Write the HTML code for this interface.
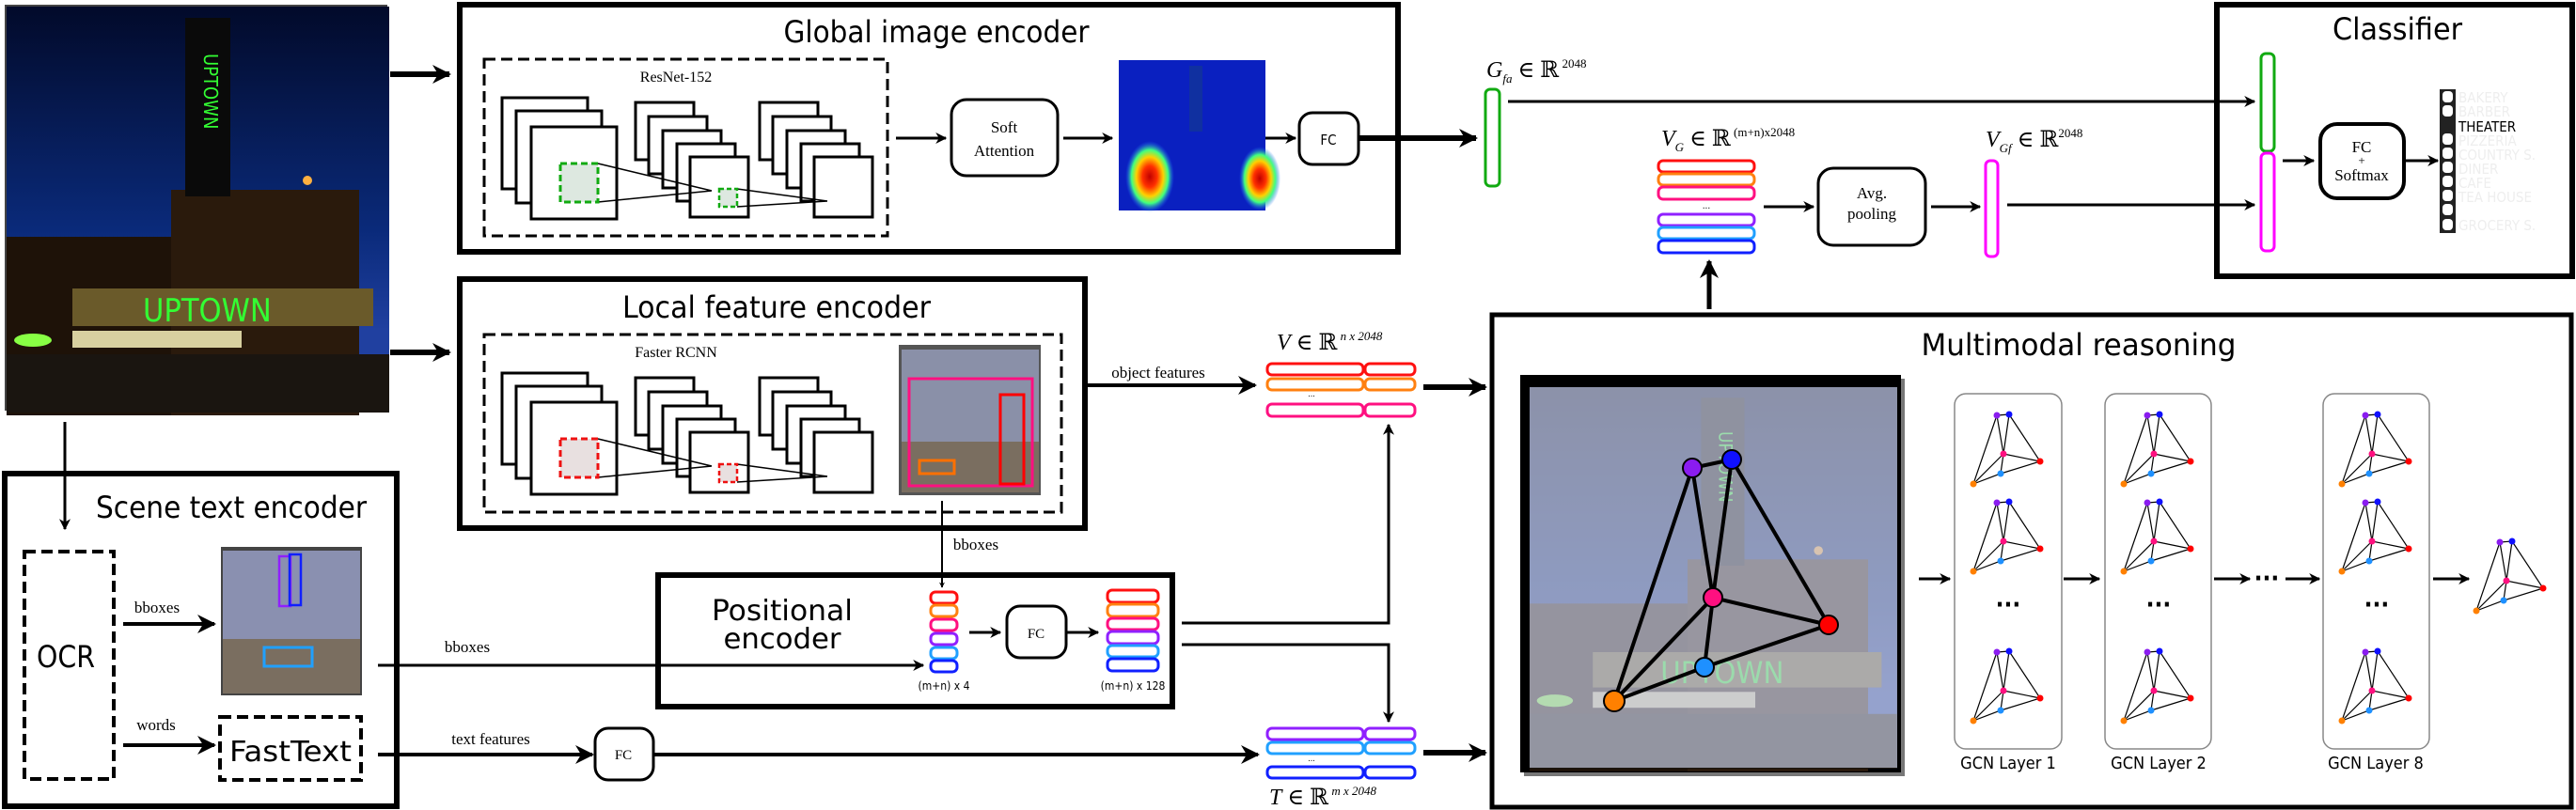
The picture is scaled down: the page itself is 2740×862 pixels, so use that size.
<!DOCTYPE html>
<html><head><meta charset="utf-8"><style>
html,body{margin:0;padding:0;background:#fff;}
svg{display:block;}
text{font-family:"DejaVu Sans Condensed","Liberation Sans Narrow","Liberation Sans",sans-serif;fill:#000;}
.serif{font-family:"Liberation Serif","DejaVu Serif",serif;}
</style></head><body>
<svg width="2740" height="862" viewBox="0 0 2740 862" xmlns="http://www.w3.org/2000/svg">
<defs>
<marker id="ah" viewBox="0 0 10 10" refX="9" refY="5" markerWidth="6" markerHeight="6" markerUnits="userSpaceOnUse" orient="auto"><path d="M0,0 L10,5 L0,10 L3,5 z" fill="#000"/></marker>
<marker id="ahs" viewBox="0 0 10 10" refX="9" refY="5" markerWidth="12" markerHeight="12" markerUnits="userSpaceOnUse" orient="auto"><path d="M0,0 L10,5 L0,10 L3,5 z" fill="#000"/></marker>
<marker id="ahb" viewBox="0 0 10 10" refX="9" refY="5" markerWidth="20" markerHeight="20" markerUnits="userSpaceOnUse" orient="auto"><path d="M0,0 L10,5 L0,10 L3,5 z" fill="#000"/></marker>
<linearGradient id="sky" x1="0" y1="0" x2="0" y2="1"><stop offset="0" stop-color="#020a2a"/><stop offset="0.55" stop-color="#0a2a7a"/><stop offset="0.8" stop-color="#2040a0"/></linearGradient>
<radialGradient id="hot" cx="0.5" cy="0.5" r="0.5"><stop offset="0" stop-color="#c00000"/><stop offset="0.3" stop-color="#ff3000"/><stop offset="0.55" stop-color="#ffd000"/><stop offset="0.75" stop-color="#40ff80"/><stop offset="1" stop-color="#2060ff" stop-opacity="0"/></radialGradient>
<g id="photo">
<rect x="0" y="0" width="407" height="432" fill="url(#sky)"/>
<rect x="0" y="245" width="190" height="190" fill="#1e1208"/>
<rect x="175" y="195" width="200" height="240" fill="#2a1a0c"/>
<rect x="190" y="12" width="48" height="190" fill="#0a0a0a"/>
<text x="210" y="50" font-size="20" fill="#3f3" style="fill:#3f3" transform="rotate(90 210 50)">UPTOWN</text>
<rect x="70" y="300" width="320" height="40" fill="#6a5a2a"/>
<text x="145" y="335" font-size="34" style="fill:#3f3">UPTOWN</text>
<rect x="70" y="345" width="180" height="18" fill="#d8d0a0"/>
<rect x="0" y="370" width="407" height="62" fill="#1a1510"/>
<ellipse cx="28" cy="355" rx="20" ry="7" fill="#8f4"/>
<circle cx="320" cy="185" r="5" fill="#ffb040"/>
</g>
<g id="conv">
<rect x="47" y="0" width="91" height="97" fill="#fff" stroke="#000" stroke-width="3"/>
<rect x="62" y="14" width="91" height="98" fill="#fff" stroke="#000" stroke-width="3"/>
<rect x="78" y="31" width="91" height="98" fill="#fff" stroke="#000" stroke-width="3"/>
<rect x="189" y="5" width="62" height="61" fill="#fff" stroke="#000" stroke-width="3"/>
<rect x="203" y="20" width="62" height="61" fill="#fff" stroke="#000" stroke-width="3"/>
<rect x="218" y="35" width="62" height="61" fill="#fff" stroke="#000" stroke-width="3"/>
<rect x="233" y="49" width="62" height="61" fill="#fff" stroke="#000" stroke-width="3"/>
<rect x="247" y="63" width="62" height="64" fill="#fff" stroke="#000" stroke-width="3"/>
<rect x="321" y="5" width="62" height="61" fill="#fff" stroke="#000" stroke-width="3"/>
<rect x="335" y="20" width="62" height="61" fill="#fff" stroke="#000" stroke-width="3"/>
<rect x="350" y="35" width="62" height="61" fill="#fff" stroke="#000" stroke-width="3"/>
<rect x="365" y="49" width="62" height="61" fill="#fff" stroke="#000" stroke-width="3"/>
<rect x="379" y="63" width="62" height="64" fill="#fff" stroke="#000" stroke-width="3"/>
<path d="M149,70 L270,99 M149,111 L270,99 M297,97 L393,110 M297,116 L393,110" stroke="#000" stroke-width="1.5" fill="none"/>
</g>
<g id="mini" stroke="#000" stroke-width="1.2">
<path d="M20,74 L45,1 L58,0 L91,50 L49,63 L20,74 M45,1 L52,42 L58,0 M52,42 L91,50 M52,42 L49,63 M52,42 L20,74" fill="none"/>
<circle cx="45" cy="1" r="3.5" fill="#8a1cf0" stroke="none"/><circle cx="58" cy="0" r="3.5" fill="#1010ff" stroke="none"/>
<circle cx="52" cy="42" r="3.5" fill="#ff1080" stroke="none"/><circle cx="91" cy="50" r="3.5" fill="#f00" stroke="none"/>
<circle cx="49" cy="63" r="3.5" fill="#1e90ff" stroke="none"/><circle cx="20" cy="74" r="3.5" fill="#ff8000" stroke="none"/>
</g>
</defs>

<!-- Photo -->
<rect x="5" y="5" width="407" height="432" fill="#444"/>
<use href="#photo" x="7" y="7" transform="translate(0,0)"/>
<line x1="415" y1="79" x2="478" y2="79" stroke="#000" stroke-width="6" marker-end="url(#ahb)"/>
<line x1="415" y1="375" x2="478" y2="375" stroke="#000" stroke-width="6" marker-end="url(#ahb)"/>
<line x1="69" y1="449" x2="69" y2="563" stroke="#000" stroke-width="3" marker-end="url(#ahs)"/>

<!-- Global image encoder -->
<rect x="489" y="5" width="998" height="263" fill="none" stroke="#000" stroke-width="6"/>
<text x="996" y="45" font-size="32" text-anchor="middle" textLength="325" lengthAdjust="spacingAndGlyphs">Global image encoder</text>
<rect x="515" y="63" width="429" height="188" fill="none" stroke="#000" stroke-width="3" stroke-dasharray="12,6"/>
<text x="719" y="87" font-size="16" text-anchor="middle" class="serif">ResNet-152</text>
<g transform="translate(487,104)"><use href="#conv"/>
<rect x="109" y="70" width="40" height="41" fill="#dde8e0" stroke="#1a1" stroke-width="3" stroke-dasharray="7,4"/>
<rect x="278" y="97" width="19" height="19" fill="#dde8e0" stroke="#1a1" stroke-width="2.5" stroke-dasharray="5,3"/></g>
<line x1="953" y1="147" x2="1006" y2="147" stroke="#000" stroke-width="3" marker-end="url(#ahs)"/>
<rect x="1012" y="106" width="113" height="81" rx="16" fill="#fff" stroke="#000" stroke-width="3"/>
<text x="1068" y="141" font-size="17" text-anchor="middle" class="serif">Soft</text>
<text x="1068" y="166" font-size="17" text-anchor="middle" class="serif">Attention</text>
<line x1="1131" y1="147" x2="1183" y2="147" stroke="#000" stroke-width="3" marker-end="url(#ahs)"/>
<rect x="1190" y="64" width="156" height="160" fill="#0a20c0"/>
<rect x="1265" y="70" width="14" height="70" fill="#1030a0"/>
<ellipse cx="1223" cy="188" rx="26" ry="38" fill="url(#hot)"/>
<ellipse cx="1340" cy="190" rx="22" ry="34" fill="url(#hot)"/>
<line x1="1346" y1="147" x2="1378" y2="147" stroke="#000" stroke-width="3" marker-end="url(#ahs)"/>
<rect x="1382" y="120" width="63" height="55" rx="14" fill="#fff" stroke="#000" stroke-width="3"/>
<text x="1413" y="154" font-size="15" text-anchor="middle">FC</text>
<line x1="1445" y1="147" x2="1570" y2="147" stroke="#000" stroke-width="6" marker-end="url(#ahb)"/>

<!-- G_fa -->
<rect x="1580" y="95" width="15" height="103" rx="5" fill="#fff" stroke="#1a1" stroke-width="3"/>
<text x="1581" y="82" font-size="24" class="serif" font-style="italic">G<tspan font-size="13" dy="6">fa</tspan><tspan dy="-6" font-style="normal" font-size="24"> ∈ ℝ</tspan><tspan font-size="13" dy="-10" font-style="normal"> 2048</tspan></text>
<line x1="1604" y1="108" x2="2398" y2="108" stroke="#000" stroke-width="3" marker-end="url(#ahs)"/>

<!-- V_G -->
<text x="1767" y="155" font-size="24" class="serif" font-style="italic">V<tspan font-size="13" dy="6">G</tspan><tspan dy="-6" font-style="normal"> ∈ ℝ</tspan><tspan font-size="13" dy="-10" font-style="normal"> (m+n)x2048</tspan></text>
<g stroke-width="3" fill="#fff">
<rect x="1764" y="171" width="102" height="12" rx="5" stroke="#ff1010"/>
<rect x="1764" y="185" width="102" height="12" rx="5" stroke="#ff8010"/>
<rect x="1764" y="199" width="102" height="13" rx="5" stroke="#ff1080"/>
<rect x="1764" y="228" width="102" height="12" rx="5" stroke="#9020ff"/>
<rect x="1764" y="242" width="102" height="12" rx="5" stroke="#20a0ff"/>
<rect x="1764" y="256" width="102" height="13" rx="5" stroke="#1020ff"/>
</g>
<text x="1815" y="222" font-size="10" text-anchor="middle">...</text>
<line x1="1876" y1="220" x2="1929" y2="220" stroke="#000" stroke-width="3" marker-end="url(#ahs)"/>
<rect x="1934" y="179" width="114" height="82" rx="16" fill="#fff" stroke="#000" stroke-width="3"/>
<text x="1991" y="211" font-size="17" text-anchor="middle" class="serif">Avg.</text>
<text x="1991" y="233" font-size="17" text-anchor="middle" class="serif">pooling</text>
<line x1="2054" y1="220" x2="2106" y2="220" stroke="#000" stroke-width="3" marker-end="url(#ahs)"/>
<rect x="2112" y="171" width="13" height="102" rx="5" fill="#fff" stroke="#f0f" stroke-width="3"/>
<text x="2112" y="156" font-size="24" class="serif" font-style="italic">V<tspan font-size="13" dy="6">Gf</tspan><tspan dy="-6" font-style="normal"> ∈ ℝ</tspan><tspan font-size="13" dy="-10" font-style="normal">2048</tspan></text>
<line x1="2135" y1="218" x2="2398" y2="218" stroke="#000" stroke-width="3" marker-end="url(#ahs)"/>
<line x1="1818" y1="329" x2="1818" y2="278" stroke="#000" stroke-width="5" marker-end="url(#ahb)"/>

<!-- Classifier -->
<rect x="2358" y="5" width="378" height="289" fill="none" stroke="#000" stroke-width="6"/>
<text x="2550" y="42" font-size="32" text-anchor="middle" textLength="138" lengthAdjust="spacingAndGlyphs">Classifier</text>
<rect x="2405" y="57" width="14" height="104" rx="5" fill="#fff" stroke="#1a1" stroke-width="3"/>
<rect x="2405" y="163" width="14" height="104" rx="5" fill="#fff" stroke="#f0f" stroke-width="3"/>
<line x1="2428" y1="171" x2="2461" y2="171" stroke="#000" stroke-width="3" marker-end="url(#ahs)"/>
<rect x="2468" y="132" width="89" height="79" rx="18" fill="#fff" stroke="#000" stroke-width="4"/>
<text x="2512" y="162" font-size="17" text-anchor="middle" class="serif">FC</text>
<text x="2512" y="175" font-size="13" text-anchor="middle" class="serif">+</text>
<text x="2512" y="192" font-size="17" text-anchor="middle" class="serif">Softmax</text>
<line x1="2557" y1="171" x2="2593" y2="171" stroke="#000" stroke-width="3" marker-end="url(#ahs)"/>
<rect x="2595" y="95" width="17" height="153" fill="#222"/>
<g fill="#fff">
<rect x="2598" y="97" width="11" height="12" rx="4"/><rect x="2598" y="112" width="11" height="12" rx="4"/>
<rect x="2598" y="142" width="11" height="12" rx="4"/><rect x="2598" y="157" width="11" height="12" rx="4"/>
<rect x="2598" y="172" width="11" height="12" rx="4"/><rect x="2598" y="187" width="11" height="12" rx="4"/>
<rect x="2598" y="202" width="11" height="12" rx="4"/><rect x="2598" y="217" width="11" height="12" rx="4"/>
<rect x="2598" y="233" width="11" height="12" rx="4"/>
</g>
<g font-size="15" style="fill:#eee">
<text x="2615" y="109" style="fill:#eee">BAKERY</text><text x="2615" y="124" style="fill:#eee">BARBER</text>
<text x="2615" y="155" style="fill:#eee">PIZZERIA</text><text x="2615" y="170" style="fill:#eee">COUNTRY S.</text>
<text x="2615" y="185" style="fill:#eee">DINER</text><text x="2615" y="200" style="fill:#eee">CAFE</text>
<text x="2615" y="215" style="fill:#eee">TEA HOUSE</text><text x="2615" y="245" style="fill:#eee">GROCERY S.</text>
</g>
<text x="2615" y="140" font-size="15">THEATER</text>

<!-- Local feature encoder -->
<rect x="489" y="297" width="665" height="265" fill="none" stroke="#000" stroke-width="6"/>
<text x="826" y="338" font-size="32" text-anchor="middle" textLength="328" lengthAdjust="spacingAndGlyphs">Local feature encoder</text>
<rect x="515" y="356" width="614" height="189" fill="none" stroke="#000" stroke-width="3" stroke-dasharray="12,6"/>
<text x="719" y="380" font-size="16" text-anchor="middle" class="serif">Faster RCNN</text>
<g transform="translate(487,397)"><use href="#conv"/>
<rect x="109" y="70" width="40" height="41" fill="#e8e0e0" stroke="#e11" stroke-width="3" stroke-dasharray="7,4"/>
<rect x="278" y="97" width="19" height="19" fill="#e8e0e0" stroke="#e11" stroke-width="2.5" stroke-dasharray="5,3"/></g>
<rect x="956" y="367" width="151" height="160" fill="#555"/>
<rect x="959" y="372" width="146" height="152" fill="#8a90a8"/>
<rect x="959" y="470" width="146" height="54" fill="#7a6e60"/>
<rect x="967" y="403" width="131" height="114" fill="none" stroke="#ff1080" stroke-width="3"/>
<rect x="1064" y="420" width="25" height="95" fill="none" stroke="#f00" stroke-width="3"/>
<rect x="978" y="490" width="37" height="14" fill="none" stroke="#ff7000" stroke-width="3"/>
<line x1="1156" y1="410" x2="1335" y2="410" stroke="#000" stroke-width="4" marker-end="url(#ahb)"/>
<text x="1232" y="402" font-size="17" text-anchor="middle" class="serif">object features</text>
<line x1="1002" y1="533" x2="1002" y2="625" stroke="#000" stroke-width="2" marker-end="url(#ah)"/>
<text x="1038" y="585" font-size="17" text-anchor="middle" class="serif">bboxes</text>

<!-- V stack -->
<text x="1358" y="372" font-size="24" class="serif" font-style="italic">V<tspan font-style="normal"> ∈ ℝ</tspan><tspan font-size="13" dy="-10"> n x 2048</tspan></text>
<g stroke-width="3" fill="#fff">
<rect x="1348" y="387" width="102" height="12" rx="5" stroke="#ff1010"/><rect x="1452" y="387" width="53" height="12" rx="5" stroke="#ff1010"/>
<rect x="1348" y="403" width="102" height="12" rx="5" stroke="#ff8010"/><rect x="1452" y="403" width="53" height="12" rx="5" stroke="#ff8010"/>
<rect x="1348" y="430" width="102" height="13" rx="5" stroke="#ff1080"/><rect x="1452" y="430" width="53" height="13" rx="5" stroke="#ff1080"/>
</g>
<text x="1395" y="422" font-size="9" text-anchor="middle">...</text>
<line x1="1514" y1="412" x2="1580" y2="412" stroke="#000" stroke-width="6" marker-end="url(#ahb)"/>

<!-- Positional encoder -->
<rect x="700" y="612" width="547" height="140" fill="none" stroke="#000" stroke-width="6"/>
<text x="832" y="660" font-size="30" text-anchor="middle" textLength="150" lengthAdjust="spacingAndGlyphs">Positional</text>
<text x="832" y="690" font-size="30" text-anchor="middle" textLength="125" lengthAdjust="spacingAndGlyphs">encoder</text>
<g stroke-width="3" fill="#fff">
<rect x="990" y="630" width="28" height="12" rx="5" stroke="#ff1010"/>
<rect x="990" y="644" width="28" height="12" rx="5" stroke="#ff8010"/>
<rect x="990" y="659" width="28" height="12" rx="5" stroke="#ff1080"/>
<rect x="990" y="674" width="28" height="12" rx="5" stroke="#9020ff"/>
<rect x="990" y="689" width="28" height="12" rx="5" stroke="#20a0ff"/>
<rect x="990" y="703" width="28" height="12" rx="5" stroke="#1020ff"/>
<rect x="1178" y="628" width="54" height="13" rx="5" stroke="#ff1010"/>
<rect x="1178" y="643" width="54" height="13" rx="5" stroke="#ff8010"/>
<rect x="1178" y="658" width="54" height="12" rx="5" stroke="#ff1080"/>
<rect x="1178" y="672" width="54" height="13" rx="5" stroke="#9020ff"/>
<rect x="1178" y="687" width="54" height="12" rx="5" stroke="#20a0ff"/>
<rect x="1178" y="701" width="54" height="13" rx="5" stroke="#1020ff"/>
</g>
<text x="1004" y="734" font-size="12" text-anchor="middle">(m+n) x 4</text>
<text x="1205" y="734" font-size="12" text-anchor="middle">(m+n) x 128</text>
<line x1="1031" y1="673" x2="1064" y2="673" stroke="#000" stroke-width="3" marker-end="url(#ahs)"/>
<rect x="1071" y="645" width="63" height="55" rx="14" fill="#fff" stroke="#000" stroke-width="3"/>
<text x="1102" y="679" font-size="15" text-anchor="middle" class="serif">FC</text>
<line x1="1134" y1="673" x2="1168" y2="673" stroke="#000" stroke-width="3" marker-end="url(#ahs)"/>
<path d="M1257,663 L1477,663 L1477,452" fill="none" stroke="#000" stroke-width="3" marker-end="url(#ahs)"/>
<path d="M1257,686 L1477,686 L1477,768" fill="none" stroke="#000" stroke-width="3" marker-end="url(#ahs)"/>

<!-- Scene text encoder -->
<rect x="5" y="504" width="417" height="354" fill="none" stroke="#000" stroke-width="6"/>
<text x="246" y="551" font-size="32" text-anchor="middle" textLength="288" lengthAdjust="spacingAndGlyphs">Scene text encoder</text>
<rect x="26" y="587" width="95" height="242" fill="none" stroke="#000" stroke-width="4" stroke-dasharray="12,6"/>
<text x="70" y="710" font-size="32" text-anchor="middle" textLength="62" lengthAdjust="spacingAndGlyphs">OCR</text>
<line x1="131" y1="664" x2="228" y2="664" stroke="#000" stroke-width="4" marker-end="url(#ahb)"/>
<text x="167" y="652" font-size="17" text-anchor="middle" class="serif">bboxes</text>
<line x1="131" y1="793" x2="228" y2="793" stroke="#000" stroke-width="4" marker-end="url(#ahb)"/>
<text x="166" y="777" font-size="17" text-anchor="middle" class="serif">words</text>
<rect x="235" y="582" width="150" height="158" fill="#444"/>
<rect x="237" y="586" width="146" height="152" fill="#8a90b0"/>
<rect x="237" y="680" width="146" height="58" fill="#7a6e60"/>
<rect x="297" y="592" width="12" height="53" fill="none" stroke="#9020ff" stroke-width="2.5"/>
<rect x="308" y="590" width="12" height="54" fill="none" stroke="#1020ff" stroke-width="2.5"/>
<rect x="281" y="689" width="51" height="20" fill="none" stroke="#20a0ff" stroke-width="3"/>
<rect x="234" y="763" width="150" height="67" fill="none" stroke="#000" stroke-width="4" stroke-dasharray="12,6"/>
<text x="309" y="810" font-size="30" text-anchor="middle" textLength="130" lengthAdjust="spacingAndGlyphs">FastText</text>
<line x1="402" y1="708" x2="982" y2="708" stroke="#000" stroke-width="3" marker-end="url(#ahs)"/>
<text x="497" y="694" font-size="17" text-anchor="middle" class="serif">bboxes</text>
<line x1="402" y1="803" x2="630" y2="803" stroke="#000" stroke-width="4" marker-end="url(#ahb)"/>
<text x="522" y="792" font-size="17" text-anchor="middle" class="serif">text features</text>
<rect x="633" y="775" width="62" height="55" rx="14" fill="#fff" stroke="#000" stroke-width="3"/>
<text x="663" y="808" font-size="15" text-anchor="middle" class="serif">FC</text>
<line x1="695" y1="803" x2="1338" y2="803" stroke="#000" stroke-width="4" marker-end="url(#ahb)"/>

<!-- T stack -->
<g stroke-width="3" fill="#fff">
<rect x="1348" y="775" width="102" height="12" rx="5" stroke="#9020ff"/><rect x="1452" y="775" width="53" height="12" rx="5" stroke="#9020ff"/>
<rect x="1348" y="790" width="102" height="12" rx="5" stroke="#20a0ff"/><rect x="1452" y="790" width="53" height="12" rx="5" stroke="#20a0ff"/>
<rect x="1348" y="816" width="102" height="12" rx="5" stroke="#1020ff"/><rect x="1452" y="816" width="53" height="12" rx="5" stroke="#1020ff"/>
</g>
<text x="1395" y="810" font-size="9" text-anchor="middle">...</text>
<text x="1350" y="856" font-size="24" class="serif" font-style="italic">T<tspan font-style="normal"> ∈ ℝ</tspan><tspan font-size="13" dy="-10"> m x 2048</tspan></text>
<line x1="1514" y1="801" x2="1580" y2="801" stroke="#000" stroke-width="6" marker-end="url(#ahb)"/>

<!-- Multimodal reasoning -->
<rect x="1587" y="335" width="1148" height="524" fill="none" stroke="#000" stroke-width="5"/>
<text x="2211" y="378" font-size="32" text-anchor="middle" textLength="335" lengthAdjust="spacingAndGlyphs">Multimodal reasoning</text>
<rect x="1621" y="403" width="405" height="423" fill="#777"/>
<rect x="1617" y="399" width="405" height="423" fill="#000"/>
<g transform="translate(1627,412) scale(0.96,0.94)" opacity="1"><use href="#photo"/></g>
<rect x="1627" y="412" width="391" height="405" fill="#c8cce0" opacity="0.7"/>
<g stroke="#000" stroke-width="4" fill="none">
<path d="M1717,746 L1800,498 L1842,489 L1945,665 L1813,710 L1717,746 M1800,498 L1822,636 L1842,489 M1822,636 L1945,665 M1822,636 L1813,710 M1822,636 L1717,746"/>
</g>
<g stroke="#000" stroke-width="2">
<circle cx="1800" cy="498" r="10" fill="#8a1cf0"/><circle cx="1842" cy="489" r="10" fill="#1010ff"/>
<circle cx="1822" cy="636" r="10" fill="#ff1080"/><circle cx="1945" cy="665" r="10" fill="#f00"/>
<circle cx="1813" cy="710" r="10" fill="#1e90ff"/><circle cx="1717" cy="746" r="11" fill="#ff8000"/>
</g>
<line x1="2041" y1="616" x2="2074" y2="616" stroke="#000" stroke-width="3" marker-end="url(#ahs)"/>
<g fill="none" stroke="#888" stroke-width="1.5">
<rect x="2079" y="419" width="114" height="378" rx="12"/>
<rect x="2239" y="419" width="113" height="378" rx="12"/>
<rect x="2471" y="419" width="113" height="378" rx="12"/>
</g>
<use href="#mini" x="2079" y="441"/><use href="#mini" x="2079" y="534"/><use href="#mini" x="2079" y="693"/>
<use href="#mini" x="2239" y="441"/><use href="#mini" x="2239" y="534"/><use href="#mini" x="2239" y="693"/>
<use href="#mini" x="2471" y="441"/><use href="#mini" x="2471" y="534"/><use href="#mini" x="2471" y="693"/>
<use href="#mini" x="2614" y="576"/>
<g font-size="26" font-weight="bold" text-anchor="middle">
<text x="2136" y="652">···</text><text x="2296" y="652">···</text><text x="2528" y="652">···</text>
<text x="2411" y="624">···</text>
</g>
<line x1="2195" y1="616" x2="2233" y2="616" stroke="#000" stroke-width="3" marker-end="url(#ahs)"/>
<line x1="2355" y1="616" x2="2393" y2="616" stroke="#000" stroke-width="3" marker-end="url(#ahs)"/>
<line x1="2431" y1="616" x2="2467" y2="616" stroke="#000" stroke-width="3" marker-end="url(#ahs)"/>
<line x1="2588" y1="616" x2="2626" y2="616" stroke="#000" stroke-width="3" marker-end="url(#ahs)"/>
<g font-size="18" text-anchor="middle">
<text x="2136" y="818">GCN Layer 1</text><text x="2296" y="818">GCN Layer 2</text><text x="2527" y="818">GCN Layer 8</text>
</g>
</svg>
</body></html>
